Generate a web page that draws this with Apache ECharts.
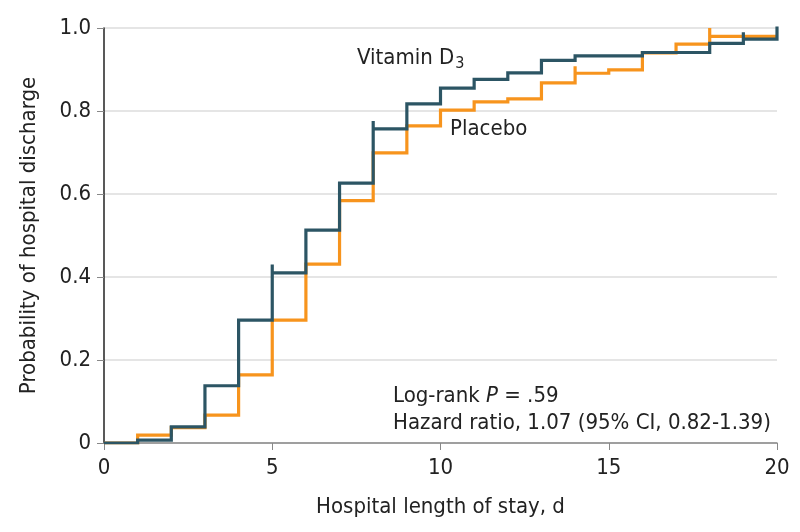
<!DOCTYPE html>
<html><head><meta charset="utf-8">
<script src="https://cdn.jsdelivr.net/npm/echarts@6/dist/echarts.min.js"></script>
<style>html,body{margin:0;padding:0;background:#fff}#c{width:800px;height:532px}</style>
</head><body><div id="c"></div>
<script>
// Days at which each step starts, and the value from that day on
var vitDays   = [0, 1, 2, 3, 4, 5, 6, 7, 8, 9, 10, 11, 12, 13, 14, 16, 18, 19];
var vitValues = [0, 0.007, 0.039, 0.138, 0.296, 0.41, 0.513, 0.626, 0.757, 0.817, 0.855, 0.876, 0.892, 0.922, 0.933, 0.941, 0.963, 0.973];
var vitEnd = 20;
// censoring ticks: day and top of tick
var vitTickDays = [5, 8, 19, 20];
var vitTickTops = [0.43, 0.776, 0.99, 1.005];

var plaDays   = [0, 1, 2, 3, 4, 5, 6, 7, 8, 9, 10, 11, 12, 13, 14, 15, 16, 17, 18];
var plaValues = [0, 0.019, 0.037, 0.067, 0.164, 0.296, 0.431, 0.584, 0.699, 0.764, 0.802, 0.822, 0.829, 0.868, 0.891, 0.899, 0.94, 0.961, 0.98];
var plaEnd = 20;
var plaTickDays = [14, 18];
var plaTickTops = [0.908, 1.0];

var xTicks = [0, 5, 10, 15, 20];
var yTicks = [0, 0.2, 0.4, 0.6, 0.8, 1.0];

function buildSteps(days, vals, end, tDays, tTops) {
  var pts = [];
  for (var i = 0; i < days.length; i++) {
    if (i > 0) pts.push([days[i], vals[i - 1]]);
    var k = tDays.indexOf(days[i]);
    if (k >= 0) pts.push([days[i], tTops[k]]);
    pts.push([days[i], vals[i]]);
  }
  pts.push([end, vals[vals.length - 1]]);
  var k2 = tDays.indexOf(end);
  if (k2 >= 0) pts.push([end, tTops[k2]]);
  return pts;
}

var FONT = 'DejaVu Sans Condensed, Liberation Sans Narrow, sans-serif';
var FS = 22;
var chart = echarts.init(document.getElementById('c'), null, {renderer: 'canvas'});
chart.setOption({
  animation: false,
  backgroundColor: '#fff',
  grid: {left: 104, right: 23, top: 28, bottom: 89},
  xAxis: {
    type: 'value', min: 0, max: 20, interval: 5,
    name: 'Hospital length of stay, d', nameLocation: 'middle', nameGap: 53,
    nameTextStyle: {fontFamily: FONT, fontSize: FS, color: '#222'},
    axisLine: {onZero: false, lineStyle: {color: '#888', width: 1.5}},
    axisTick: {show: true, length: 7, lineStyle: {color: '#888'}},
    axisLabel: {fontFamily: FONT, fontSize: FS, color: '#222', margin: 14},
    splitLine: {show: false}
  },
  yAxis: {
    type: 'value', min: 0, max: 1, interval: 0.2,
    name: 'Probability of hospital discharge', nameLocation: 'middle', nameGap: 64,
    nameTextStyle: {fontFamily: FONT, fontSize: FS, color: '#222'},
    axisLine: {show: true, lineStyle: {color: '#222', width: 1.5}},
    axisTick: {show: true, length: 7, lineStyle: {color: '#888'}},
    axisLabel: {fontFamily: FONT, fontSize: FS, color: '#222', margin: 13,
      formatter: function (v) { return v === 0 ? '0' : v.toFixed(1); }},
    splitLine: {show: true, lineStyle: {color: '#ddd', width: 1.5}}
  },
  series: [
    {
      name: 'Placebo', type: 'line', showSymbol: false, symbol: 'none',
      data: buildSteps(plaDays, plaValues, plaEnd, plaTickDays, plaTickTops),
      lineStyle: {color: '#f7941d', width: 3.2, join: 'miter', cap: 'butt'}, z: 2
    },
    {
      name: 'Vitamin D3', type: 'line', showSymbol: false, symbol: 'none',
      data: buildSteps(vitDays, vitValues, vitEnd, vitTickDays, vitTickTops),
      lineStyle: {color: '#2c5564', width: 3.2, join: 'miter', cap: 'butt'}, z: 3
    }
  ],
  graphic: [
    {type: 'text', left: 357, top: 47, style: {
      text: '{a|Vitamin D}{s|3}',
      rich: {a: {fontFamily: FONT, fontSize: FS, fill: '#222'},
             s: {fontFamily: FONT, fontSize: 16, fill: '#222', padding: [12, 0, 0, 1]}}}},
    {type: 'text', left: 450, top: 118, style: {text: 'Placebo', fontFamily: FONT, fontSize: FS, fill: '#222'}},
    {type: 'text', left: 393, top: 385, style: {
      text: '{a|Log-rank }{i|P}{a| = .59}',
      rich: {a: {fontFamily: FONT, fontSize: FS, fill: '#222'},
             i: {fontFamily: FONT, fontSize: FS, fill: '#222', fontStyle: 'italic'}}}},
    {type: 'text', left: 393, top: 412, style: {text: 'Hazard ratio, 1.07 (95% CI, 0.82-1.39)', fontFamily: FONT, fontSize: FS, fill: '#222'}}
  ]
});
</script></body></html>
